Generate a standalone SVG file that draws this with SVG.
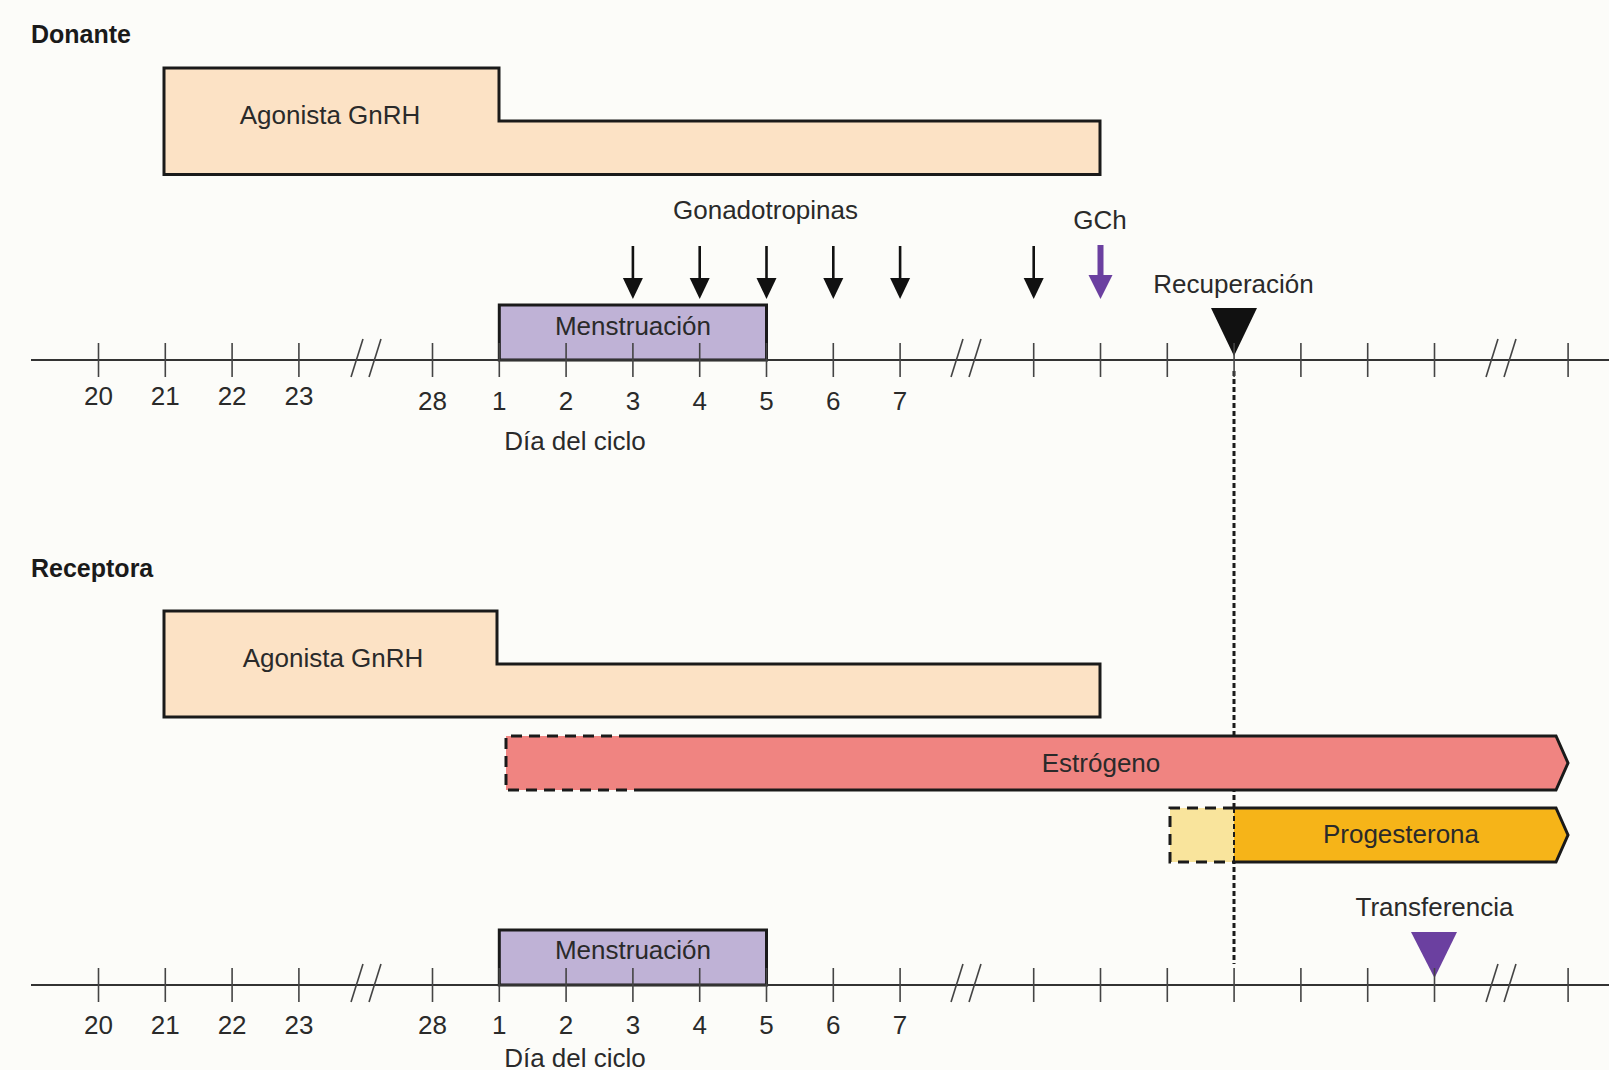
<svg xmlns="http://www.w3.org/2000/svg" width="1609" height="1070" viewBox="0 0 1609 1070">
<style>
text{font-family:"Liberation Sans",Arial,sans-serif;font-size:26px;fill:#2a2a2a}
.b{font-weight:bold;fill:#1a1a1a;font-size:25px}
.m{text-anchor:middle}
.ax{stroke:#333;stroke-width:2;fill:none}
.tk{stroke:#444;stroke-width:1.6}
.box{stroke:#1a1a1a;stroke-width:3}
.ag{fill:#fce2c5}
.men{fill:#bfb2d6}
.dash{fill:none;stroke:#1a1a1a;stroke-width:3;stroke-dasharray:11 7}
.solid{fill:none;stroke:#1a1a1a;stroke-width:3;stroke-linejoin:miter}
</style>
<defs>
<g id="brk"><line x1="-15" y1="377" x2="-3" y2="339" class="tk"/><line x1="3" y1="377" x2="15" y2="339" class="tk"/></g>
<g id="arrB"><line x1="0" y1="246" x2="0" y2="282" stroke="#111" stroke-width="2.6"/><polygon points="-10,278 10,278 0,299" fill="#111"/></g>
</defs>
<rect width="1609" height="1070" fill="#fcfcf9"/>

<g id="titles">
<text class="b" x="31" y="43">Donante</text>
<text class="b" x="31" y="577">Receptora</text>
</g>

<g id="connectors">
<line x1="1234" y1="371" x2="1234" y2="964" stroke="#1a1a1a" stroke-width="3" stroke-dasharray="5 3"/>
<use href="#arrB" x="632.9"/>
<use href="#arrB" x="699.7"/>
<use href="#arrB" x="766.5"/>
<use href="#arrB" x="833.3"/>
<use href="#arrB" x="900.1"/>
<use href="#arrB" x="1033.7"/>
<g id="gch-arrow"><rect x="1097.5" y="245" width="6" height="33" fill="#6b40a0"/><polygon points="1088.5,275 1112.5,275 1100.5,299" fill="#6b40a0"/></g>
</g>

<g id="donor-agonist">
<path class="box ag" d="M164,68 H499 V121 H1100 V174.5 H164 Z"/>
<text class="m" x="330" y="124">Agonista GnRH</text>
</g>

<g id="gonadotropinas"><text class="m" x="765.5" y="219">Gonadotropinas</text></g>
<g id="gch"><text class="m" x="1100" y="229">GCh</text></g>

<g id="donor-menstruacion">
<rect class="box men" x="499.3" y="305" width="267.2" height="55"/>
<text class="m" x="633" y="335">Menstruación</text>
</g>

<g id="recuperacion">
<text class="m" x="1233.5" y="293">Recuperación</text>
<polygon points="1211,308 1257,308 1234,356" fill="#111"/>
</g>

<g id="donor-axis">
<line class="ax" x1="31" y1="360" x2="1609" y2="360"/>
<g class="tk">
<line x1="98.5" y1="343" x2="98.5" y2="377"/><line x1="165.3" y1="343" x2="165.3" y2="377"/><line x1="232.1" y1="343" x2="232.1" y2="377"/><line x1="298.9" y1="343" x2="298.9" y2="377"/>
<line x1="432.5" y1="343" x2="432.5" y2="377"/><line x1="499.3" y1="343" x2="499.3" y2="377"/><line x1="566.1" y1="343" x2="566.1" y2="377"/><line x1="632.9" y1="343" x2="632.9" y2="377"/>
<line x1="699.7" y1="343" x2="699.7" y2="377"/><line x1="766.5" y1="343" x2="766.5" y2="377"/><line x1="833.3" y1="343" x2="833.3" y2="377"/><line x1="900.1" y1="343" x2="900.1" y2="377"/>
<line x1="1033.7" y1="343" x2="1033.7" y2="377"/><line x1="1100.5" y1="343" x2="1100.5" y2="377"/><line x1="1167.3" y1="343" x2="1167.3" y2="377"/><line x1="1234.1" y1="343" x2="1234.1" y2="377"/>
<line x1="1300.9" y1="343" x2="1300.9" y2="377"/><line x1="1367.7" y1="343" x2="1367.7" y2="377"/><line x1="1434.5" y1="343" x2="1434.5" y2="377"/><line x1="1568.1" y1="343" x2="1568.1" y2="377"/>
</g>
<use href="#brk" x="366"/><use href="#brk" x="966"/><use href="#brk" x="1501"/>
<text class="m" x="98.5" y="405">20</text><text class="m" x="165.3" y="405">21</text><text class="m" x="232.1" y="405">22</text><text class="m" x="298.9" y="405">23</text>
<text class="m" x="432.5" y="410">28</text><text class="m" x="499.3" y="410">1</text><text class="m" x="566.1" y="410">2</text><text class="m" x="632.9" y="410">3</text>
<text class="m" x="699.7" y="410">4</text><text class="m" x="766.5" y="410">5</text><text class="m" x="833.3" y="410">6</text><text class="m" x="900.1" y="410">7</text>
<text class="m" x="575" y="450">Día del ciclo</text>
</g>

<g id="recipient-agonist">
<path class="box ag" d="M164,611 H497 V664 H1100 V717 H164 Z"/>
<text class="m" x="333" y="667">Agonista GnRH</text>
</g>

<g id="estrogeno">
<path d="M506,736 H1556 L1568,763 L1556,790 H506 Z" fill="#f08481"/>
<path class="solid" d="M630,736 H1556 L1568,763 L1556,790 H634"/>
<path class="dash" d="M630,736 H506 V790 H634"/>
<text class="m" x="1101" y="772">Estrógeno</text>
</g>

<g id="progesterona">
<rect x="1170" y="808" width="64" height="54" fill="#f9e49c"/>
<path d="M1234,808 H1556 L1568,835 L1556,862 H1234 Z" fill="#f6b418"/>
<path class="dash" d="M1234,808 H1170 V862 H1234"/>
<path class="solid" d="M1234,808 H1556 L1568,835 L1556,862 H1234"/>
<line x1="1234" y1="808" x2="1234" y2="862" stroke="#1a1a1a" stroke-width="2" stroke-dasharray="5 3"/>
<text class="m" x="1401" y="843">Progesterona</text>
</g>

<g id="transferencia">
<text class="m" x="1434.5" y="916">Transferencia</text>
<polygon points="1411,932 1457,932 1434.5,978" fill="#6b40a0"/>
</g>

<g id="recipient-menstruacion">
<rect class="box men" x="499.3" y="930" width="267.2" height="55"/>
<text class="m" x="633" y="959">Menstruación</text>
</g>

<g id="recipient-axis">
<line class="ax" x1="31" y1="985" x2="1609" y2="985"/>
<g class="tk">
<line x1="98.5" y1="968" x2="98.5" y2="1002"/><line x1="165.3" y1="968" x2="165.3" y2="1002"/><line x1="232.1" y1="968" x2="232.1" y2="1002"/><line x1="298.9" y1="968" x2="298.9" y2="1002"/>
<line x1="432.5" y1="968" x2="432.5" y2="1002"/><line x1="499.3" y1="968" x2="499.3" y2="1002"/><line x1="566.1" y1="968" x2="566.1" y2="1002"/><line x1="632.9" y1="968" x2="632.9" y2="1002"/>
<line x1="699.7" y1="968" x2="699.7" y2="1002"/><line x1="766.5" y1="968" x2="766.5" y2="1002"/><line x1="833.3" y1="968" x2="833.3" y2="1002"/><line x1="900.1" y1="968" x2="900.1" y2="1002"/>
<line x1="1033.7" y1="968" x2="1033.7" y2="1002"/><line x1="1100.5" y1="968" x2="1100.5" y2="1002"/><line x1="1167.3" y1="968" x2="1167.3" y2="1002"/><line x1="1234.1" y1="968" x2="1234.1" y2="1002"/>
<line x1="1300.9" y1="968" x2="1300.9" y2="1002"/><line x1="1367.7" y1="968" x2="1367.7" y2="1002"/><line x1="1434.5" y1="968" x2="1434.5" y2="1002"/><line x1="1568.1" y1="968" x2="1568.1" y2="1002"/>
</g>
<use href="#brk" x="366" y="625"/><use href="#brk" x="966" y="625"/><use href="#brk" x="1501" y="625"/>
<text class="m" x="98.5" y="1034">20</text><text class="m" x="165.3" y="1034">21</text><text class="m" x="232.1" y="1034">22</text><text class="m" x="298.9" y="1034">23</text>
<text class="m" x="432.5" y="1034">28</text><text class="m" x="499.3" y="1034">1</text><text class="m" x="566.1" y="1034">2</text><text class="m" x="632.9" y="1034">3</text>
<text class="m" x="699.7" y="1034">4</text><text class="m" x="766.5" y="1034">5</text><text class="m" x="833.3" y="1034">6</text><text class="m" x="900.1" y="1034">7</text>
<text class="m" x="575" y="1067">Día del ciclo</text>
</g>
</svg>
